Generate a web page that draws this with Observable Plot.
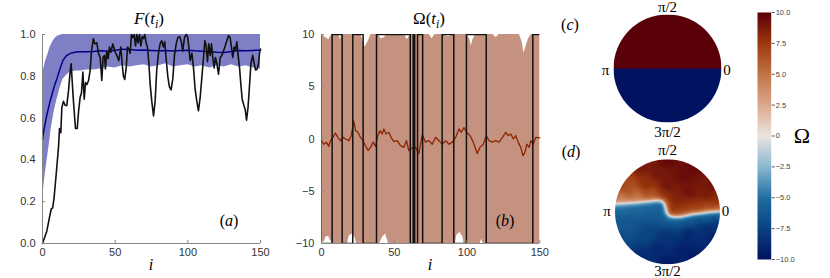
<!DOCTYPE html>
<html><head><meta charset="utf-8">
<script src="https://cdn.jsdelivr.net/npm/d3@7"></script>
<script src="https://cdn.jsdelivr.net/npm/@observablehq/plot@0.6"></script>
<style>
html,body{margin:0;padding:0;background:#fff;}
#wrap{position:relative;width:830px;height:278px;overflow:hidden;background:#fff;}
.lbl{position:absolute;transform:translate(-50%,-50%);white-space:nowrap;font-family:"Liberation Serif",serif;color:#000;line-height:1;}
.lbl i{font-style:italic;}
.lbl .sb{font-size:0.7em;position:relative;top:0.3em;}
</style></head><body><div id="wrap"></div>
<script>
// ---------- panel (a): F(t_i) ----------
const xTicks = [0, 50, 100, 150];
const yTicksA = [0, 0.2, 0.4, 0.6, 0.8, 1.0];
const fI = [0,3,4.8,6,7,8,9.4,11,11.7,12.6,
13.3,14.4,15.6,16.7,17.9,19,19.7,20.4,21.3,22.7,
23.9,24.8,25.9,26.8,27.8,28.7,29.6,30.5,31.7,32.8,
33.7,35,36,37.4,38.5,39.7,40.8,41.7,42.7,43.3,
44.3,45.2,46.1,47,48.4,49.8,51.1,52.5,53.9,54.8,
55.7,56.6,57.6,58.5,59.4,60.3,61.2,62.2,63.1,64,
64.9,65.8,66.7,67.7,68.6,69.5,70.4,71.3,72.2,73.2,
74.1,75.2,76.4,77.5,78.6,79.8,80.9,82,83.2,84.1,
85,86.2,87.3,88.5,89.7,90.8,92,93.1,94.3,95.4,
96.5,97.7,98.9,99.8,100.7,101.6,102.8,103.9,105,106.2,
107.3,108.5,109.6,110.8,111.7,112.6,113.5,114.4,115.4,116.3,
117.2,118.1,119,120,121.1,122.3,123.4,124.5,125.7,126.8,
128,129.1,130,130.9,131.9,132.8,133.7,134.6,135.6,136.5,
137.4,138.4,139.5,140.4,141.4,142.3,143.4,144.6,145.7,146.6,
147.7,148.6,149.5,150];
const fV = [0,0.06,0.125,0.165,0.17,0.22,0.33,0.46,0.55,0.53,
0.65,0.68,0.66,0.66,0.73,0.82,0.86,0.78,0.68,0.55,
0.55,0.63,0.70,0.72,0.82,0.69,0.77,0.76,0.78,0.83,
0.92,0.98,0.955,0.96,0.91,0.89,0.78,0.89,0.90,0.835,
0.92,0.885,0.94,0.915,0.955,0.92,0.90,0.875,0.94,0.86,
0.80,0.785,0.84,0.94,0.93,0.91,1.0,0.985,1.0,0.945,
1.0,0.96,1.0,0.945,0.99,0.98,1.0,0.96,0.94,0.86,
0.76,0.68,0.61,0.68,0.83,0.91,0.955,0.97,0.94,0.965,
0.89,0.80,0.75,0.735,0.79,0.90,0.955,0.985,0.99,0.97,
0.92,0.985,1.0,0.99,0.94,0.875,0.91,0.84,0.74,0.68,
0.635,0.70,0.79,0.89,0.97,0.945,0.87,0.955,0.90,0.955,
0.89,0.84,0.89,0.86,0.81,0.89,0.90,0.92,0.945,0.97,
0.995,0.985,0.94,0.89,0.94,0.925,0.965,0.90,0.84,0.76,
0.69,0.665,0.64,0.59,0.65,0.74,0.86,0.90,0.86,0.83,
0.835,0.86,0.92,0.93];
const bandAI = [0,1,2,3,4,5,6,7,8,9,10,12,14,16,18,20,23,26,30,
35,40,45,50,55,60,65,70,75,80,85,90,95,100,105,110,115,120,125,130,135,140,145,150];
const bandAHi = [0.81,0.84,0.87,0.89,0.91,0.935,0.95,0.965,0.975,0.985,0.99,0.997,1,1,1,1,1,1,1,
1,1,1,1,1,1,1,1,1,1,1,1,1,1,1,1,1,1,1,1,1,1,1,1];
const bandALo = [0.21,0.28,0.34,0.39,0.44,0.49,0.55,0.59,0.63,0.66,0.69,0.74,0.785,0.80,0.815,0.82,0.825,0.825,0.83,
0.83,0.835,0.845,0.84,0.85,0.845,0.85,0.855,0.845,0.85,0.86,0.845,0.85,0.855,0.845,0.85,0.84,0.85,0.845,0.855,0.845,0.85,0.84,0.835];
const bandAMean = [0.50,0.545,0.58,0.615,0.645,0.675,0.70,0.725,0.75,0.77,0.79,0.835,0.875,0.895,0.905,0.912,0.916,0.918,0.917,
0.919,0.922,0.92,0.925,0.93,0.928,0.925,0.926,0.924,0.922,0.923,0.921,0.924,0.925,0.922,0.92,0.918,0.915,0.914,0.919,0.923,0.922,0.924,0.925];

// ---------- panel (b): Omega(t_i) ----------
const yTicksB = [-10, -5, 0, 5, 10];
const mBI = [0,1.6,3.4,5,6.2,7.8,9.6,11.2,13,14.9,
16.5,18.8,20.4,22.2,23.4,25,26.8,28.6,30.2,32,
33.7,35.5,37.1,38.7,40.1,41.7,42.8,44.4,46.3,47.8,
49.7,52,54.3,56.6,58.4,60,61.8,64.6,66.9,69.2,
71.5,73.8,76.1,78.4,80.7,83,85.3,87.6,89.9,92.2,
94.5,96.1,97.9,99.7,102,104.3,105.9,107,108.9,111.2,
113.2,115.1,117.4,119.7,122,124.3,126.6,128.2,130,131.9,
133.5,135.1,136.9,138.5,139.7,141.1,142.7,143.8,145.4,147.3,150];
const mBV = [-0.16,-0.5,-0.3,-0.7,-0.16,0.16,0.57,0.16,-0.16,0.16,
0,-0.16,0.32,1.7,0.8,0.64,0.16,-0.16,-0.64,-1.1,
-0.8,-0.3,-0.7,0.32,0.8,0.48,0.96,0.48,0.64,0.16,
-0.25,-0.16,-0.64,-0.8,-0.16,-1.1,-0.9,-0.8,-1.4,0.4,
-0.3,-0.16,-0.5,0.16,-0.16,-0.5,-0.16,-0.5,-0.3,0.16,
0.96,0.64,1.1,0.64,0.32,-0.3,-0.96,-1.4,-0.8,-0.5,
0.32,-0.16,-0.3,-0.16,-0.3,0.16,0.64,0.32,0.48,0,
0.32,-0.3,-0.8,-1.6,-1.3,-0.5,-0.8,-0.16,-0.5,0.16,0.1];
const upBI = [0,3,5,7,12,13,14,27,29,30,32,34,39,41,43,45,57,59,61,74,
76,78,84,86,88,90,100,102,103,104,106,118,120,122,136,138,139,140,142,144,150];
const upBV = [10,9.7,9.5,10,10,9.5,10,10,9.2,8.8,9.3,10,10,9.6,9.7,10,10,9.5,10,10,
9.6,10,10,9.8,9.8,10,10,9.5,8.9,9.5,10,10,9.7,10,10,9.2,8.2,8.6,9.5,10,10];
const loBI = [0,2,3,5,6,8,18,19,21,23,24,40,42,44,46,92,93,95,97,98,109,110,111,150];
const loBV = [-10,-9.8,-9.4,-9.3,-9.7,-10,-10,-9.3,-9.1,-9.4,-10,-10,-9.4,-9.1,-10,-10,-9.2,-8.95,-9.3,-10,-10,-9.6,-10,-10];
const stepBI = [0,7.3,14.2,21.5,28.6,37.8,61,63,64,66,69.5,82.9,90.9,99.6,113.2,145.2,150];
const stepBV = [-10,10,-10,10,-10,10,-10,10,-10,10,-10,10,-10,10,-10,10,10];

// ---------- panel (c): two half-disks ----------
const cU = [0, 0];
const cV = [0.5, -0.5];
const cW = [10, -10];

// ---------- panel (d): zero line (disk units) and Omega samples either side ----------
const bU = [-1.06,-0.75,-0.45,-0.23,-0.15,-0.095,-0.06,-0.04,-0.025,-0.005,0.03,0.08,0.15,0.25,0.33,0.47,0.63,0.787,1.06];
const bV = [0.15,0.165,0.19,0.215,0.212,0.19,0.15,0.09,0.03,-0.03,-0.07,-0.09,-0.1,-0.095,-0.08,-0.05,-0.03,-0.008,0.01];
const aU = [-0.9,-0.6,-0.3,-0.05,0.07,0.2,0.45,0.75,0.98,
-0.75,-0.4,0,0.4,0.75,0.15,-0.2,0.3,
-0.97,-0.87,-0.5,0,0.5,0.87,0.97,
-0.9,-0.6,-0.3,-0.13,0.0,0.2,0.45,0.75,0.98,
-0.75,-0.4,0,0.4,0.75,-0.2,0.3,
-0.97,-0.87,-0.5,0,0.5,0.87,0.97];
const aV = [0.27,0.3,0.33,0.28,0.13,0.02,0.05,0.09,0.11,
0.45,0.55,0.5,0.4,0.35,0.25,0.75,0.7,
0.3,0.5,0.87,1,0.87,0.5,0.25,
0.05,0.08,0.1,0.0,-0.12,-0.19,-0.15,-0.11,-0.09,
-0.3,-0.45,-0.5,-0.45,-0.35,-0.75,-0.75,
-0.2,-0.5,-0.87,-1,-0.87,-0.5,-0.25];
const aW = [4.5,5.2,6.5,8.0,8.0,7.6,7.4,7.2,7.0,
6.5,8.0,9.1,9.2,8.8,8.6,9.0,9.5,
6.0,7.0,8.9,9.7,9.6,9.2,8.2,
-5.3,-5.5,-5.7,-6.0,-6.3,-6.6,-6.7,-6.7,-6.8,
-6.4,-7.4,-8.4,-8.9,-8.6,-8.9,-9.3,
-6.2,-7.1,-8.8,-9.5,-9.6,-9.2,-8.3];

// ---------- colour bar ----------
const cbTicks = [-10, -7.5, -5, -2.5, 0, 2.5, 5, 7.5, 10];
const vikStops = [-10, -7.5, -5, -2.5, 0, 2.5, 5, 7.5, 10];
const vikColors = ["#011261","#0a4281","#1f6ea1","#8ab8d2","#ebe4e0","#dba98c","#c27345","#9c380d","#590008"];

// ================= drawing =================
const wrap = document.getElementById("wrap");
function place(el, left, top) {
  el.style.position = "absolute"; el.style.left = left + "px"; el.style.top = top + "px";
  wrap.appendChild(el); return el;
}
function lbl(html, x, y, size) {
  const d = document.createElement("div");
  d.className = "lbl"; d.innerHTML = html;
  d.style.left = x + "px"; d.style.top = y + "px"; d.style.fontSize = size + "px";
  wrap.appendChild(d);
}
const baseStyle = {fontFamily: "'Liberation Sans', sans-serif", fontSize: "11px", color: "#333", background: "transparent", overflow: "visible"};
const colorScale = {type: "linear", domain: vikStops, range: vikColors, interpolate: "rgb"};
const mathFont = "'Liberation Serif', serif";

const fLine = fI.map((x, k) => ({i: x, f: fV[k]}));
const fBand = bandAI.map((x, k) => ({i: x, lo: bandALo[k], hi: bandAHi[k], m: bandAMean[k]}));
const plotA = Plot.plot({
  width: 280, height: 278, marginLeft: 42, marginRight: 20, marginTop: 34, marginBottom: 35,
  x: {domain: [0, 150]}, y: {domain: [0, 1]},
  style: baseStyle,
  marks: [
    Plot.areaY(fBand, {x: "i", y1: "lo", y2: "hi", fill: "#00008b", fillOpacity: 0.5}),
    Plot.lineY(fBand, {x: "i", y: "m", stroke: "#00008b", strokeWidth: 1.5}),
    Plot.lineY(fLine, {x: "i", y: "f", stroke: "#111", strokeWidth: 1.6}),
    Plot.ruleX([0], {stroke: "#888"}),
    Plot.ruleY([0], {stroke: "#888"}),
    Plot.axisY({ticks: yTicksA, tickFormat: d3.format(".1f"), tickSize: -3, tickPadding: 10, stroke: "#888", fill: "#333", label: null}),
    Plot.axisX({ticks: xTicks, tickFormat: d3.format("d"), tickSize: -3, tickPadding: 8, stroke: "#888", fill: "#333", label: null})
  ]
});
place(plotA, 0, 0);

const mB = mBI.map((x, k) => ({i: x, m: mBV[k]}));
const upB = upBI.map((x, k) => ({i: x, hi: upBV[k]}));
const loB = loBI.map((x, k) => ({i: x, lo: loBV[k]}));
const stepB = stepBI.map((x, k) => ({i: x, v: stepBV[k]}));
const plotB = Plot.plot({
  width: 280, height: 278, marginLeft: 41, marginRight: 20.7, marginTop: 34, marginBottom: 35,
  x: {domain: [0, 150]}, y: {domain: [-10, 10]},
  style: baseStyle,
  marks: [
    Plot.ruleX([0], {stroke: "#888"}),
    Plot.ruleY([-10], {stroke: "#888"}),
    Plot.areaY(upB, {x: "i", y1: -10, y2: "hi", fill: "#8b2500", fillOpacity: 0.5}),
    Plot.areaY(loB, {x: "i", y1: -10, y2: "lo", fill: "white"}),
    Plot.lineY(mB, {x: "i", y: "m", stroke: "#8b2500", strokeWidth: 1.3}),
    Plot.line(stepB, {x: "i", y: "v", curve: "step-after", stroke: "#111", strokeWidth: 1.5, clip: true}),
    Plot.axisY({ticks: yTicksB, tickSize: -3, tickPadding: 10, stroke: "#888", fill: "#333", label: null}),
    Plot.axisX({ticks: xTicks, tickFormat: d3.format("d"), tickSize: -3, tickPadding: 8, stroke: "#888", fill: "#333", label: null})
  ]
});
place(plotB, 280, 0);

function clipDisk(svg, id) {
  const sx = svg.scale("x"), sy = svg.scale("y");
  const cx = sx.apply(0), cy = sy.apply(0), r = Math.abs(sx.apply(1) - sx.apply(0));
  const ns = "http://www.w3.org/2000/svg";
  const defs = document.createElementNS(ns, "defs");
  const cp = document.createElementNS(ns, "clipPath"); cp.setAttribute("id", id);
  const c = document.createElementNS(ns, "circle");
  c.setAttribute("cx", cx); c.setAttribute("cy", cy); c.setAttribute("r", r);
  cp.appendChild(c); defs.appendChild(cp); svg.insertBefore(defs, svg.firstChild);
  svg.querySelectorAll('g[aria-label="raster"]').forEach(g => g.setAttribute("clip-path", `url(#${id})`));
}
function diskPlot(rasterMark, m, id, lab) {
  const t = {textAnchor: "middle", lineAnchor: "middle", fontFamily: mathFont, fontSize: 15, fill: "#000"};
  const p = Plot.plot({
    width: 160, height: m.h, marginLeft: m.l, marginRight: m.l, marginTop: m.t, marginBottom: m.b,
    x: {domain: [-1, 1], axis: null}, y: {domain: [-1, 1], axis: null},
    color: colorScale, style: baseStyle,
    marks: [
      rasterMark,
      Plot.text(["π/2"], {...t, frameAnchor: "top", dy: lab.top}),
      Plot.text(["3π/2"], {...t, frameAnchor: "bottom", dy: lab.bottom}),
      Plot.text(["π"], {...t, frameAnchor: "left", dx: -8, dy: lab.side}),
      Plot.text(["0"], {...t, frameAnchor: "right", dx: 5.5, dy: lab.side})
    ]
  });
  clipDisk(p, id);
  return p;
}
const cData = cU.map((u, k) => ({u, v: cV[k], w: cW[k]}));
place(diskPlot(Plot.raster(cData, {x: "u", y: "v", fill: "w", interpolate: "nearest", x1: -1, x2: 1, y1: -1, y2: 1}),
  {h: 140, l: 26, t: 14, b: 18}, "clipC", {top: -7, bottom: 10, side: 2}), 587, 0);

// field of (d): side of the read zero line, distance to it, and the samples read on that side
function zeroLineV(u) {
  if (u <= bU[0]) return bV[0];
  for (let k = 1; k < bU.length; k++) if (u <= bU[k]) {
    const t = (u - bU[k - 1]) / (bU[k] - bU[k - 1]);
    return bV[k - 1] + t * (bV[k] - bV[k - 1]);
  }
  return bV[bV.length - 1];
}
function zeroLineDist(u, v) {
  let best = Infinity;
  for (let k = 1; k < bU.length; k++) {
    const ax = bU[k - 1], ay = bV[k - 1], dx = bU[k] - ax, dy = bV[k] - ay;
    let t = ((u - ax) * dx + (v - ay) * dy) / (dx * dx + dy * dy);
    t = Math.max(0, Math.min(1, t));
    const ex = ax + t * dx - u, ey = ay + t * dy - v;
    best = Math.min(best, Math.hypot(ex, ey));
  }
  return best;
}
function fieldD(u, v) {
  const s = v > zeroLineV(u) ? 1 : -1;
  let num = 0, den = 0;
  for (let k = 0; k < aU.length; k++) {
    if (Math.sign(aW[k]) !== s) continue;
    const w = Math.pow((u - aU[k]) ** 2 + (v - aV[k]) ** 2 + 0.005, -1.5);
    num += w * Math.abs(aW[k]); den += w;
  }
  const d = zeroLineDist(u, v);
  return s * (num / den) * (1 - Math.exp(-d / 0.045));
}
place(diskPlot(Plot.raster({fill: fieldD, x1: -1, x2: 1, y1: -1, y2: 1, pixelSize: 0.5}),
  {h: 138, l: 27.5, t: 18.8, b: 14.2}, "clipD", {top: -9.5, bottom: 7, side: -1}), 587, 140);

const cbFmt = d => d === 0 ? "0" : (d < 0 ? "\u2212" : "") + Math.abs(d).toFixed(1);
const plotE = Plot.plot({
  width: 85, height: 278, marginLeft: 12, marginRight: 59.3, marginTop: 12, marginBottom: 19,
  x: {domain: [0, 1], axis: null}, y: {domain: [-10, 10]},
  color: colorScale, style: baseStyle,
  marks: [
    Plot.raster({fill: (x, y) => y, x1: 0, x2: 1, y1: -10, y2: 10}),
    Plot.axisY({anchor: "right", ticks: cbTicks, tickFormat: cbFmt, tickSize: 3, tickPadding: 1.5, fontSize: 7.5, stroke: "#555", fill: "#444", label: null})
  ]
});
place(plotE, 745, 0);

// ---------- text labels ----------
lbl('<i>F</i>(<i>t</i><span class="sb"><i>i</i></span>)', 149, 18, 17);
lbl('Ω(<i>t</i><span class="sb"><i>i</i></span>)', 429, 18, 17);
lbl('<i>i</i>', 151, 265, 16);
lbl('<i>i</i>', 430, 265, 16);
lbl('(<i>a</i>)', 229, 221, 16);
lbl('(<i>b</i>)', 505, 221, 16);
lbl('(<i>c</i>)', 570, 25, 16);
lbl('(<i>d</i>)', 571, 152, 16);
lbl('Ω', 802, 136, 22);
</script></body></html>
